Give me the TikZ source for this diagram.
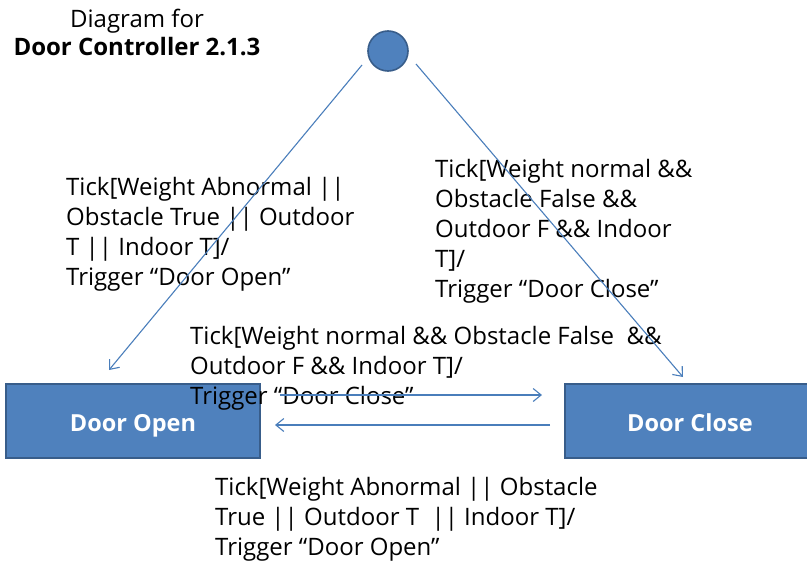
\documentclass[tikz,border=0pt]{standalone}
\usepackage{fontspec}
\setmainfont{Open Sans}
\usetikzlibrary{arrows.meta}
\definecolor{boxfill}{HTML}{4F81BD}
\definecolor{boxline}{HTML}{385D8A}
\definecolor{wire}{HTML}{4A7EBB}
\begin{document}
\begin{tikzpicture}[x=1pt,y=-1pt,
  state/.style={draw=boxline, line width=1.6pt, fill=boxfill, text=white,
    font=\fontsize{23.5}{28}\selectfont\bfseries,
    text height=20pt, text depth=0pt,
    minimum height=74pt, inner sep=0pt},
  initial/.style={circle, draw=boxline, line width=1.6pt, fill=boxfill,
    minimum size=40pt, inner sep=0pt},
  guard/.style={align=left, inner sep=0pt, anchor=base west,
    font=\fontsize{24}{30}\selectfont, text=black},
  trans/.style={draw=wire, line width=1.1pt,
    -{Straight Barb[length=8pt,width=13pt]}}]
\useasboundingbox (0,0) rectangle (807,565);

% title
\node[align=center, inner sep=0pt, anchor=base,
  font=\fontsize{24}{28}\selectfont] (title) at (137,55)
  {Diagram for\\\textbf{Door Controller 2.1.3}};

% initial pseudo-state and the two states
\node[initial] (init) at (388,51) {};
\begin{scope}
  \clip (0,0) rectangle (807,565);
  \node[state, minimum width=254pt] (open) at (133,421) {Door Open};
  \node[state, minimum width=250pt] (close) at (690,421) {Door Close};
\end{scope}

% free ends of the transitions
\coordinate (iL) at (362,65);
\coordinate (iLe) at (109,370);
\coordinate (iR) at (416,64);
\coordinate (iRe) at (683,377);
\coordinate (oc) at (280,395);
\coordinate (oce) at (542,395);
\coordinate (co) at (550,425);
\coordinate (coe) at (275,425);

% guards
\node[guard] (gOpen) at (66,285)
  {Tick[Weight Abnormal ||\\Obstacle True || Outdoor\\T || Indoor T]/\\Trigger “Door Open”};
\node[guard] (gClose) at (435,297)
  {Tick[Weight normal \&\&\\Obstacle False \&\&\\Outdoor F \&\& Indoor\\T]/\\Trigger “Door Close”};
\node[guard] (gOC) at (190,404)
  {Tick[Weight normal \&\& Obstacle False \ \&\&\\Outdoor F \&\& Indoor T]/\\Trigger “Door Close”};
\node[guard] (gCO) at (215,555)
  {Tick[Weight Abnormal || Obstacle\\True || Outdoor T \ || Indoor T]/\\Trigger “Door Open”};

% transitions
\draw[trans] (iL) -- (iLe);
\draw[trans] (iR) -- (iRe);
\draw[trans] (oc) -- (oce);
\draw[trans] (co) -- (coe);
\end{tikzpicture}
\end{document}
